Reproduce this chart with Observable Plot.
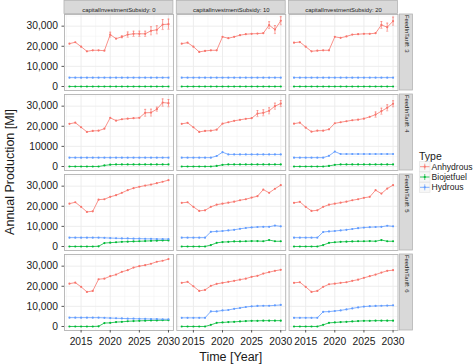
<!DOCTYPE html>
<html><head><meta charset="utf-8">
<script src="https://cdn.jsdelivr.net/npm/d3@7"></script>
<script src="https://cdn.jsdelivr.net/npm/@observablehq/plot@0.6"></script>
<style>
html,body{margin:0;padding:0;background:#fff;}
#chart{position:relative;width:474px;height:364px;overflow:hidden;}
</style></head><body><div id="chart"></div>
<script>
const years = [2013,2014,2015,2016,2017,2018,2019,2020,2021,2022,2023,2024,2025,2026,2027,2028,2029,2030];
const subsidies = [0, 10, 20];
const tariffs = [3, 4, 5, 6];
const types = ["Anhydrous", "Biojetfuel", "Hydrous"];
const typeColors = ["#F8766D", "#00BA38", "#619CFF"];
const xTicks = [2015, 2020, 2025, 2030];
const xMinorTicks = [2012.5, 2017.5, 2022.5, 2027.5];
const yTicks = [0, 10000, 20000, 30000];
const yMinorTicks = [5000, 15000, 25000, 35000];
// y tick labels per FeedInTariff row (the second row prints 10000 without separator)
const yTickLabels = [
  ["0", "10,000", "20,000", "30,000"],
  ["0", "10000", "20,000", "30,000"],
  ["0", "10,000", "20,000", "30,000"],
  ["0", "10,000", "20,000", "30,000"]
];

// [FeedInTariff row][capitalInvestmentSubsidy column] -> values per year
const anhydrous = [
  [[21300,22000,19800,17500,18000,18000,17800,25800,23800,24700,25800,26200,26200,26200,27700,28200,30800,31000],
   [21300,21800,19800,17200,17700,18000,18000,24700,24000,24700,25500,26000,26200,26300,26500,30500,28300,32700],
   [21800,22100,19800,17500,17800,18000,18000,24700,24200,24900,25800,26000,26200,26200,26500,30600,29500,32500]],
  [[21200,21800,19500,17200,17700,17800,18800,24200,22800,23500,23800,24000,24200,26700,26800,28500,31800,31500],
   [21200,21700,19500,17200,17700,17800,18300,21300,22000,22700,23200,23700,24000,26300,26700,27700,30000,31300],
   [21300,21800,19300,17300,17800,17800,18500,21500,22000,22500,23000,23300,23800,24700,25800,27500,29200,31200]],
  [[21300,22000,19700,17200,17500,23300,23500,24700,25500,26700,28000,29000,29700,30300,30800,31500,32200,33000],
   [21700,22000,19700,17700,18000,19700,20800,21300,21800,22300,23000,23500,24300,25000,28300,26700,28700,30500],
   [21700,22200,19700,17700,18000,19700,20800,21300,21800,22300,23000,23500,24200,24700,28000,26300,28800,30500]],
  [[21300,21800,19700,17200,17700,23500,23800,25000,25800,27200,28000,29300,30000,30500,31200,32200,32700,33500],
   [21700,22200,20000,17700,18200,20200,21200,21700,22200,22700,23300,23800,24700,25200,26300,27000,27700,28200],
   [21700,22000,19700,17200,17700,19700,21000,21300,21700,22000,22700,23300,24200,25000,25800,26800,27700,28000]]
];
const anhydrousErr = [
  [[0,0,0,0,0,0,0,1200,0,500,1300,1300,1300,1300,2000,2000,2500,2500],
   [0,0,0,0,0,0,0,0,0,0,0,0,0,0,0,1700,2000,2000],
   [0,0,0,0,0,0,0,0,0,0,0,0,0,0,0,1700,2000,2000]],
  [[0,0,0,0,0,0,0,0,0,0,0,0,0,1700,1700,1000,1800,1800],
   [0,0,0,0,0,0,0,0,0,0,0,0,0,1500,1500,1500,1500,1500],
   [0,0,0,0,0,0,0,0,0,0,0,0,0,0,1300,1500,1500,1500]],
  [[0,0,0,0,0,0,0,0,0,0,0,0,0,0,0,0,0,0],
   [0,0,0,0,0,0,0,0,0,0,0,0,0,0,0,0,0,0],
   [0,0,0,0,0,0,0,0,0,0,0,0,0,0,0,0,0,0]],
  [[0,0,0,0,0,0,0,0,0,0,0,0,0,0,0,0,0,0],
   [0,0,0,0,0,0,0,0,0,0,0,0,0,0,0,0,0,0],
   [0,0,0,0,0,0,0,0,0,0,0,0,0,0,0,0,0,0]]
];
const biojetfuel = [
  [[0,0,0,0,0,0,0,0,0,0,0,0,0,0,0,0,0,0],
   [0,0,0,0,0,0,0,0,0,0,0,0,0,0,0,0,0,0],
   [0,0,0,0,0,0,0,0,0,0,0,0,0,0,0,0,0,0]],
  [[0,0,0,0,0,0,500,900,1000,1000,1000,1000,1000,1000,1000,1000,1000,1000],
   [0,0,0,0,0,0,300,800,1000,1000,1000,1000,1000,1000,1000,1000,1000,1000],
   [0,0,0,0,0,0,300,800,1000,1000,1000,1000,1000,1000,1000,1000,1000,1000]],
  [[0,0,0,0,0,100,1700,1900,2100,2300,2400,2500,2600,2700,2800,2900,3000,3000],
   [0,0,0,0,0,700,1800,2200,2300,2500,2500,2600,2700,2700,2600,3200,2600,2600],
   [0,0,0,0,0,700,1800,2100,2300,2400,2500,2600,2600,2700,2600,3200,2600,2600]],
  [[0,0,0,0,0,100,1700,1800,2200,2300,2600,2700,2800,2900,3000,3000,3100,3100],
   [0,0,0,0,0,800,1800,2000,2200,2300,2500,2700,2800,2800,2900,2900,2900,2900],
   [0,0,0,0,0,800,1800,2000,2200,2300,2500,2700,2800,2800,2900,2900,2900,2900]]
];
const hydrous = [
  [[4400,4400,4400,4400,4400,4400,4400,4400,4400,4400,4400,4400,4400,4400,4400,4400,4400,4400],
   [4400,4400,4400,4400,4400,4400,4400,4400,4400,4400,4400,4400,4400,4400,4400,4400,4400,4400],
   [4400,4400,4400,4400,4400,4400,4400,4400,4400,4400,4400,4400,4400,4400,4400,4400,4400,4400]],
  [[4400,4400,4400,4400,4400,4400,4400,4400,4400,4400,4400,4400,4400,4400,4400,4400,4400,4400],
   [4400,4400,4400,4400,4400,4400,5200,7100,6000,6000,6000,6000,6000,6000,6000,6000,6000,6000],
   [4400,4400,4400,4400,4400,4400,5300,7400,6200,6200,6200,6200,6200,6200,6200,6200,6200,6200]],
  [[4400,4400,4400,4400,4400,4400,4300,4200,4100,4000,4000,3900,3900,3800,3800,3700,3700,3700],
   [4400,4400,4400,4400,4400,7300,7500,7700,8000,8300,8800,9200,9500,9700,9800,9800,10400,10000],
   [4400,4400,4400,4400,4400,7200,7500,7700,8000,8300,8700,9100,9400,9600,9700,9800,10300,10000]],
  [[4400,4400,4400,4400,4400,4400,4300,4200,4100,4000,3900,3900,3800,3800,3700,3700,3600,3600],
   [4300,4300,4300,4300,4300,7500,7500,8000,8200,8800,9200,9700,10000,10200,10300,10300,10500,10700],
   [4300,4300,4300,4300,4300,7300,7400,7700,8000,8500,9000,9500,9900,10100,10200,10300,10400,10500]]
];

// ---- build tables ----
const seriesByType = {Anhydrous: anhydrous, Biojetfuel: biojetfuel, Hydrous: hydrous};
const rows = [];
tariffs.forEach((t, i) => subsidies.forEach((s, j) => types.forEach(type => {
  const vals = seriesByType[type][i][j];
  years.forEach((year, k) => rows.push({
    t, s, type, year, value: vals[k],
    err: type === "Anhydrous" ? anhydrousErr[i][j][k] : 0
  }));
})));
const errRows = rows.filter(d => d.err > 0);
const capRows = errRows.flatMap(d => [{...d, yc: d.value - d.err}, {...d, yc: d.value + d.err}]);
const topStrips = subsidies.map(s => ({s, t: tariffs[0]}));
const rightStrips = tariffs.map(t => ({s: subsidies[subsidies.length - 1], t}));
const yTickRows = tariffs.flatMap((t, i) => yTicks.map((v, j) => ({s: subsidies[0], t, v, label: yTickLabels[i][j]})));

// ---- layout ----
const W = 474, H = 364, mL = 64, mR = 76.5, mT = 14, mB = 34;
const padX = 0.03, padY = 0.05;
const bwX = (W - mL - mR) / (subsidies.length - padX) * (1 - padX);
const bwY = (H - mT - mB) / (tariffs.length - padY) * (1 - padY);
const stripFill = "#d9d9d9", borderCol = "#b3b3b3", textCol = "#1a1a1a";

const svg = Plot.plot({
  width: W, height: H,
  marginLeft: mL, marginRight: mR, marginTop: mT, marginBottom: mB,
  style: {fontFamily: "'Liberation Sans', Arial, sans-serif", background: "#fff", overflow: "visible"},
  fx: {domain: subsidies, paddingInner: padX, paddingOuter: 0, round: false, axis: null},
  fy: {domain: tariffs, paddingInner: padY, paddingOuter: 0, round: false, axis: null},
  x: {domain: [2012.15, 2030.85]},
  y: {domain: [-2000, 35800]},
  color: {domain: types, range: typeColors},
  marks: [
    Plot.gridX(xMinorTicks, {stroke: "#f4f4f4", strokeOpacity: 1, strokeWidth: 0.6}),
    Plot.gridY(yMinorTicks, {stroke: "#f4f4f4", strokeOpacity: 1, strokeWidth: 0.6}),
    Plot.gridX(xTicks, {stroke: "#ebebeb", strokeOpacity: 1, strokeWidth: 0.9}),
    Plot.gridY(yTicks, {stroke: "#ebebeb", strokeOpacity: 1, strokeWidth: 0.9}),
    Plot.frame({stroke: borderCol, strokeWidth: 0.9}),
    Plot.rect(topStrips, {fx: "s", fy: "t", fill: stripFill, stroke: borderCol, strokeWidth: 0.8,
      insetTop: -13.5, insetBottom: bwY + 0.6}),
    Plot.text(topStrips, {fx: "s", fy: "t", text: d => `capitalInvestmentSubsidy: ${d.s}`,
      frameAnchor: "top", dy: -7, fontSize: 5.9, fill: textCol}),
    Plot.rect(rightStrips, {fx: "s", fy: "t", fill: stripFill, stroke: borderCol, strokeWidth: 0.8,
      insetLeft: bwX + 2, insetRight: -15}),
    Plot.text(rightStrips, {fx: "s", fy: "t", text: d => `FeedInTariff: ${d.t}`,
      frameAnchor: "right", dx: 8.5, rotate: 90, fontSize: 5.9, fill: textCol}),
    Plot.ruleX(errRows, {fx: "s", fy: "t", x: "year", y1: d => d.value - d.err, y2: d => d.value + d.err,
      stroke: "type", strokeWidth: 0.7}),
    Plot.link(capRows, {fx: "s", fy: "t", x1: d => d.year - 0.18, x2: d => d.year + 0.18, y1: "yc", y2: "yc",
      stroke: "type", strokeWidth: 0.6}),
    Plot.line(rows, {fx: "s", fy: "t", x: "year", y: "value", stroke: "type", strokeWidth: 0.8}),
    Plot.dot(rows, {fx: "s", fy: "t", x: "year", y: "value", fill: "type", r: 1.1}),
    Plot.axisX({ticks: xTicks, tickFormat: d => String(d), tickSize: 2.5, tickPadding: 4.5,
      fontSize: 10.3, fill: textCol, stroke: "#555", label: null, anchor: "bottom"}),
    Plot.axisY(yTickRows, {y: "v", fx: "s", fy: "t", text: "label", tickSize: 2.5, tickPadding: 4,
      fontSize: 10.3, fill: textCol, stroke: "#555", label: null, anchor: "left", facetAnchor: null})
  ]
});

const root = d3.select(svg);
// axis titles
root.append("text")
  .attr("x", mL + (W - mL - mR) / 2).attr("y", 357)
  .attr("text-anchor", "middle").attr("dominant-baseline", "central")
  .attr("font-size", 12.5).attr("fill", textCol).text("Time [Year]");
root.append("text")
  .attr("transform", `translate(9.5,${mT + (H - mT - mB) / 2}) rotate(-90)`)
  .attr("text-anchor", "middle").attr("dominant-baseline", "central")
  .attr("font-size", 12.5).attr("fill", textCol).text("Annual Production [Ml]");

// legend
const lg = root.append("g").attr("transform", "translate(419,0)").attr("text-anchor", "start");
lg.append("text").attr("x", 0).attr("y", 155.7).attr("dominant-baseline", "central")
  .attr("text-anchor", "start").attr("font-size", 10.5).attr("fill", textCol).text("Type");
types.forEach((type, i) => {
  const cy = 166.7 + i * 10.3;
  const g = lg.append("g");
  g.append("rect").attr("x", 0.5).attr("y", cy - 5).attr("width", 10.5).attr("height", 10)
    .attr("fill", "#f7f7f7").attr("stroke", "#e2e2e2").attr("stroke-width", 0.6);
  g.append("line").attr("x1", 1).attr("x2", 10.5).attr("y1", cy).attr("y2", cy)
    .attr("stroke", typeColors[i]).attr("stroke-width", 0.8);
  g.append("line").attr("x1", 5.75).attr("x2", 5.75).attr("y1", cy - 3).attr("y2", cy + 3)
    .attr("stroke", typeColors[i]).attr("stroke-width", 0.7);
  g.append("circle").attr("cx", 5.75).attr("cy", cy).attr("r", 1.1).attr("fill", typeColors[i]);
  g.append("text").attr("x", 12.5).attr("y", cy).attr("dominant-baseline", "central")
    .attr("text-anchor", "start").attr("font-size", 8.6).attr("fill", textCol).text(type);
});

document.getElementById("chart").appendChild(svg);
</script></body></html>
